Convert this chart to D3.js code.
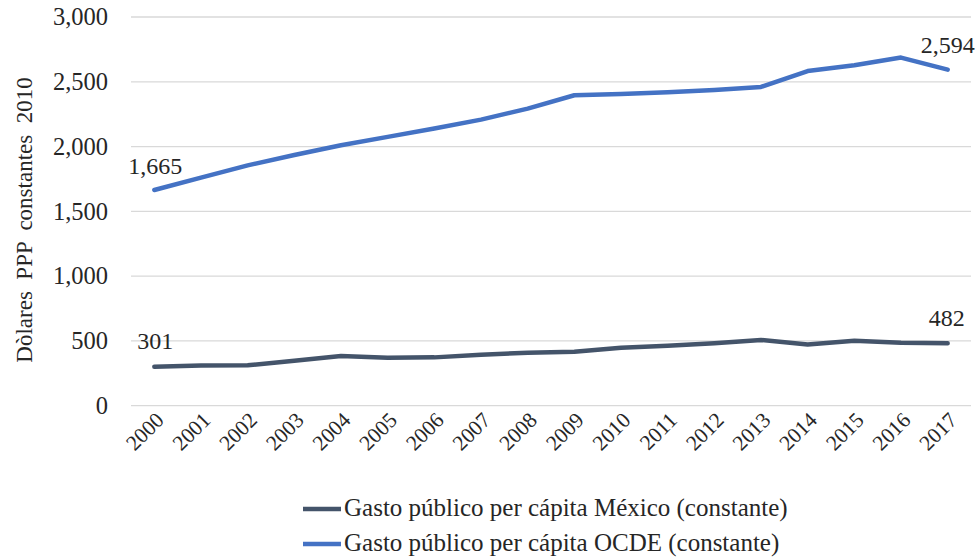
<!DOCTYPE html>
<meta charset="utf-8">
<style>
body { margin: 0; background: #fff; }
svg text { font-family: "Liberation Serif", Tinos, "Times New Roman", serif !important; fill: #262626; }
.grid line { stroke: #d9d9d9; stroke-width: 1.3px; }
</style>
<svg width="977" height="558" font-family="Liberation Serif"></svg>
<script src="https://d3js.org/d3.v7.min.js"></script>
<script>

var years = ["2000","2001","2002","2003","2004","2005","2006","2007","2008",
             "2009","2010","2011","2012","2013","2014","2015","2016","2017"];
var mexico = [301,310,312,347,383,370,373,393,409,417,447,462,482,507,473,501,486,482];
var ocde = [1665,1760,1855,1935,2010,2075,2140,2208,2293,2396,2405,2420,2437,2460,2583,2627,2687,2594];
var yTicks = [0,500,1000,1500,2000,2500,3000];
var seriesNames = ["Gasto público per cápita México (constante)",
                   "Gasto público per cápita OCDE (constante)"];
var colors = ["#44546a", "#4472c4"];

var svg = d3.select("svg");
var pLeft = 131, pRight = 971, pTop = 17, pBottom = 405.7;

var x = d3.scaleBand().domain(years).range([pLeft, pRight]);
var y = d3.scaleLinear().domain([0, 3000]).range([pBottom, pTop]);
var fmt = d3.format(",");

// gridlines
svg.append("g").attr("class", "grid")
  .selectAll("line").data(yTicks).enter().append("line")
    .attr("x1", pLeft).attr("x2", pRight)
    .attr("y1", function(d) { return y(d); })
    .attr("y2", function(d) { return y(d); });

// y axis labels
var yAxis = d3.axisLeft(y).tickValues(yTicks).tickFormat(fmt).tickSize(0).tickPadding(0);
var ya = svg.append("g").attr("transform", "translate(108,0)").call(yAxis)
    .attr("font-family", null).attr("font-size", null);
ya.select(".domain").remove();
ya.selectAll("text").attr("font-size", 24.5);

// x axis labels
var xAxis = d3.axisBottom(x).tickSize(0).tickPadding(0);
var xa = svg.append("g").attr("transform", "translate(0," + pBottom + ")").call(xAxis)
    .attr("font-family", null).attr("font-size", null);
xa.select(".domain").remove();
xa.selectAll("text")
    .attr("font-size", 21.5)
    .attr("text-anchor", "end")
    .attr("dy", null)
    .attr("transform", "translate(0,5) rotate(-45)")
    .attr("y", 0).attr("x", 0)
    .attr("dominant-baseline", "hanging");

// y title
svg.append("text")
    .attr("transform", "translate(32,220) rotate(-90)")
    .attr("text-anchor", "middle")
    .attr("font-size", 23)
    .style("white-space", "pre")
    .text("Dòlares  PPP  constantes  2010");

// lines
var cx = function(i) { return x(years[i]) + x.bandwidth() / 2; };
var line = d3.line()
    .x(function(d, i) { return cx(i); })
    .y(function(d) { return y(d); });

[mexico, ocde].forEach(function(s, k) {
  svg.append("path").datum(s)
      .attr("fill", "none")
      .attr("stroke", colors[k])
      .attr("stroke-width", 4.5)
      .attr("stroke-linejoin", "round")
      .attr("stroke-linecap", "round")
      .attr("d", line);
});

// data labels
var labels = [
  { v: ocde[0], i: 0, dx: -26, dy: -16 },
  { v: ocde[17], i: 17, dx: -27, dy: -17 },
  { v: mexico[0], i: 0, dx: -17, dy: -18 },
  { v: mexico[17], i: 17, dx: -19, dy: -17 }
];
svg.append("g").selectAll("text").data(labels).enter().append("text")
    .attr("x", function(d) { return cx(d.i) + d.dx; })
    .attr("y", function(d) { return y(d.v) + d.dy; })
    .attr("font-size", 24)
    .text(function(d) { return fmt(d.v); });

// legend
var lg = svg.append("g").selectAll("g").data(seriesNames).enter().append("g")
    .attr("transform", function(d, i) { return "translate(303," + (509 + i * 35) + ")"; });
lg.append("line")
    .attr("x1", 0).attr("x2", 38)
    .attr("stroke", function(d, i) { return colors[i]; })
    .attr("stroke-width", 4.5);
lg.append("text")
    .attr("x", 41).attr("y", 7)
    .attr("font-size", 25)
    .text(function(d) { return d; });

</script>
